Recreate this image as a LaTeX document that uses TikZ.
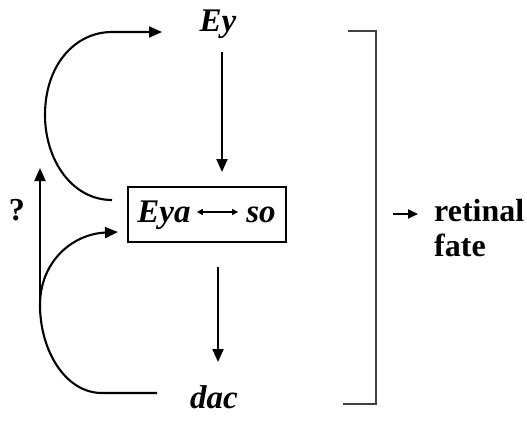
\documentclass[tikz,border=0pt]{standalone}
\usepackage{fontspec}
\setmainfont{Liberation Serif}
\usetikzlibrary{arrows.meta}
\begin{document}
\begin{tikzpicture}[x=1pt,y=-1pt,
  lbl/.style={font=\fontsize{33}{36}\selectfont\bfseries\itshape, inner sep=0pt},
  bold/.style={font=\fontsize{32}{35}\selectfont\bfseries, inner sep=0pt, align=left},
  conn/.style={line width=2.1pt, -{Triangle[length=13pt,width=11pt]}},
  smallconn/.style={line width=2.1pt, -{Triangle[length=10pt,width=9pt]}},
  dbl/.style={line width=1.3pt, {Triangle[length=6pt,width=6pt]}-{Triangle[length=6pt,width=6pt]}},
  boxstyle/.style={draw, line width=1.8pt, minimum width=158pt, minimum height=55pt, inner sep=0pt},
  bracket/.style={line width=1.4pt, draw=black!75}
]
\useasboundingbox (0,0) rectangle (527,420);
\fill[white] (0,0) rectangle (527,420);

% nodes
\node[lbl, anchor=base] (ey) at (218,32) {Ey};
\node[boxstyle] (box) at (207,214.5) {};
\node[lbl, anchor=base] (eya) at (164,222) {Eya};
\node[lbl, anchor=base] (so) at (261,222) {so};
\node[lbl, anchor=base] (dac) at (214,408) {dac};
\node[bold, anchor=base] (q) at (17,220) {?};
\node[bold, anchor=base west] (fate) at (434,256) {retinal\\fate};

% coordinates
\coordinate (eytop) at (222,52);
\coordinate (eybot) at (222,172);
\coordinate (dactop) at (218,267);
\coordinate (dacbot) at (218,362);
\coordinate (upstart) at (112,200);
\coordinate (upend) at (162,32);
\coordinate (lowstart) at (157,393);
\coordinate (lowend) at (118,232);
\coordinate (vstart) at (40,302);
\coordinate (vend) at (40,168);
\coordinate (fa) at (393,214);
\coordinate (fb) at (418,214);

% connectors
\draw[conn] (eytop) -- (eybot);
\draw[conn] (dactop) -- (dacbot);
\draw[dbl] ([xshift=6pt,yshift=10pt]eya.base east) -- ([xshift=-8pt,yshift=10pt]so.base west);
\draw[conn] (upstart) .. controls (72,200) and (45,160) .. (45,115)
  .. controls (45,65) and (75,32) .. (112,32) -- (upend);
\draw[conn] (lowstart) -- (102,393) .. controls (65,393) and (40,350) .. (40,305)
  .. controls (40,262) and (72,234) .. (lowend);
\draw[conn] (vstart) -- (vend);
\draw[smallconn] (fa) -- (fb);

% bracket
\draw[bracket] (348,31) -- (376,31) -- (376,404) -- (343,404);
\end{tikzpicture}
\end{document}
